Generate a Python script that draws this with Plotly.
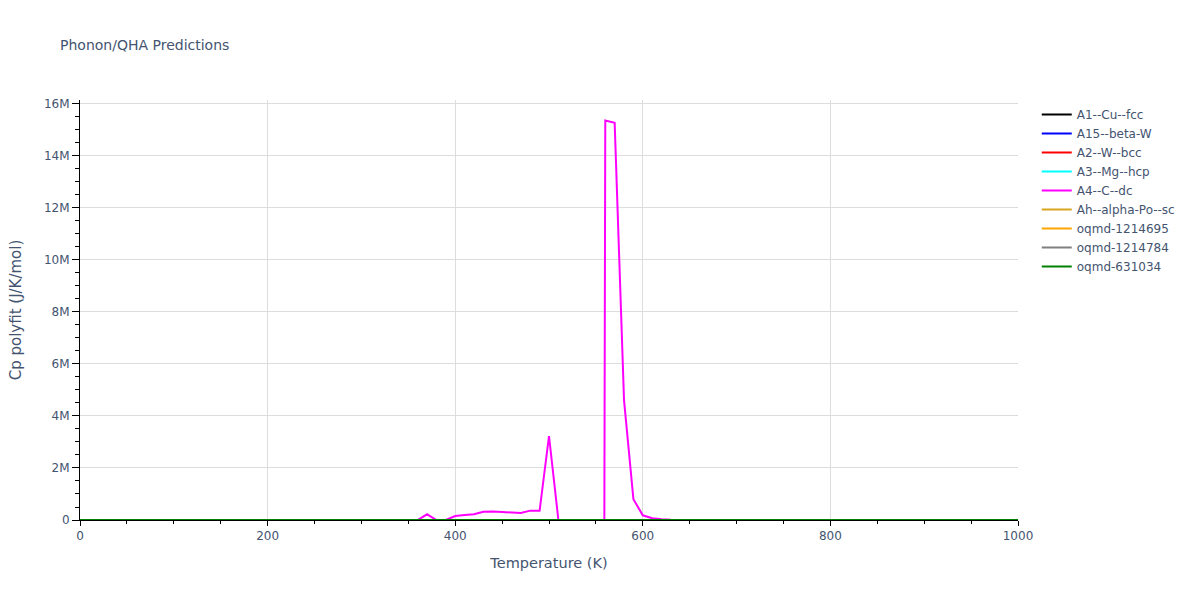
import plotly.graph_objects as go

# Temperature grid (K) for the near-zero series
temps_flat = [0, 100, 200, 300, 400, 500, 600, 700, 800, 900, 1000]

# Near-zero Cp values (J/K/mol) – invisible on this scale
cp_a1 = [0, 22, 24, 24.5, 25, 25.3, 25.6, 25.9, 26.2, 26.5, 26.8]
cp_a15 = [0, 20, 23, 24, 24.6, 25, 25.3, 25.6, 25.9, 26.2, 26.5]
cp_a2 = [0, 18, 22, 23.5, 24.2, 24.7, 25.1, 25.5, 25.8, 26.1, 26.4]
cp_a3 = [0, 21, 23.5, 24.3, 24.8, 25.2, 25.5, 25.8, 26.1, 26.4, 26.7]
cp_ah = [0, 19, 23, 24, 24.5, 24.9, 25.2, 25.5, 25.8, 26.1, 26.4]
cp_oq1 = [0, 20, 23.2, 24.1, 24.7, 25.1, 25.4, 25.7, 26, 26.3, 26.6]
cp_oq2 = [0, 21, 23.6, 24.4, 24.9, 25.3, 25.6, 25.9, 26.2, 26.5, 26.8]
cp_oq3 = [0, 22, 23.8, 24.5, 25, 25.4, 25.7, 26, 26.3, 26.6, 26.9]

# A4--C--dc series (J/K/mol)
temps_a4 = [0, 100, 200, 300, 350, 360, 370, 380, 390, 400, 410, 420, 430, 440,
            450, 460, 470, 480, 490, 500, 510, 520, 530, 540, 550, 559, 560, 570,
            580, 590, 600, 610, 620, 630, 700, 800, 900, 1000]
cp_a4 = [0, 0, 0, 0, 0, 0, 0.22e6, 0, 0, 0.15e6, 0.19e6, 0.22e6, 0.32e6, 0.33e6,
         0.31e6, 0.29e6, 0.27e6, 0.36e6, 0.36e6, 3.23e6, 0, 0, 0, 0, 0, 0, 15.36e6, 15.27e6,
         4.6e6, 0.8e6, 0.18e6, 0.07e6, 0.03e6, 0.01e6, 0, 0, 0, 0]

series = [
    ("A1--Cu--fcc", temps_flat, cp_a1, "black"),
    ("A15--beta-W", temps_flat, cp_a15, "blue"),
    ("A2--W--bcc", temps_flat, cp_a2, "red"),
    ("A3--Mg--hcp", temps_flat, cp_a3, "cyan"),
    ("A4--C--dc", temps_a4, cp_a4, "magenta"),
    ("Ah--alpha-Po--sc", temps_flat, cp_ah, "goldenrod"),
    ("oqmd-1214695", temps_flat, cp_oq1, "orange"),
    ("oqmd-1214784", temps_flat, cp_oq2, "gray"),
    ("oqmd-631034", temps_flat, cp_oq3, "green"),
]

fig = go.Figure()
for name, x, y, c in series:
    fig.add_trace(go.Scatter(x=x, y=y, mode="lines", name=name,
                             line=dict(color=c, width=2)))

axis_common = dict(showline=True, linecolor="black", linewidth=1,
                   ticks="outside", tickcolor="black",
                   showgrid=True, gridcolor="#dddddd", zeroline=False,
                   mirror=False)

fig.update_layout(
    template="plotly_white",
    width=1200, height=600,
    font=dict(family="DejaVu Sans", size=12, color="#44546f"),
    title=dict(text="Phonon/QHA Predictions", x=0.05, font=dict(size=14)),
    xaxis=dict(title=dict(text="Temperature (K)", font=dict(size=14.5)), range=[0, 1000], dtick=200,
               ticklen=5,
               minor=dict(ticks="outside", dtick=50, ticklen=3, tickcolor="black", showgrid=False),
               **axis_common),
    yaxis=dict(title=dict(text="Cp polyfit (J/K/mol)", font=dict(size=15), standoff=18),
               range=[0, 16.15e6], dtick=2e6, ticklen=7,
               minor=dict(ticks="outside", dtick=0.5e6, ticklen=4, tickcolor="black", showgrid=False),
               **axis_common),
    legend=dict(x=1.02, y=1),
    margin=dict(l=80, r=182, t=100, b=80),
    plot_bgcolor="white", paper_bgcolor="white",
)

fig.write_html("out.html", config={"displayModeBar": False},
               post_script="document.body.style.margin='0';")
